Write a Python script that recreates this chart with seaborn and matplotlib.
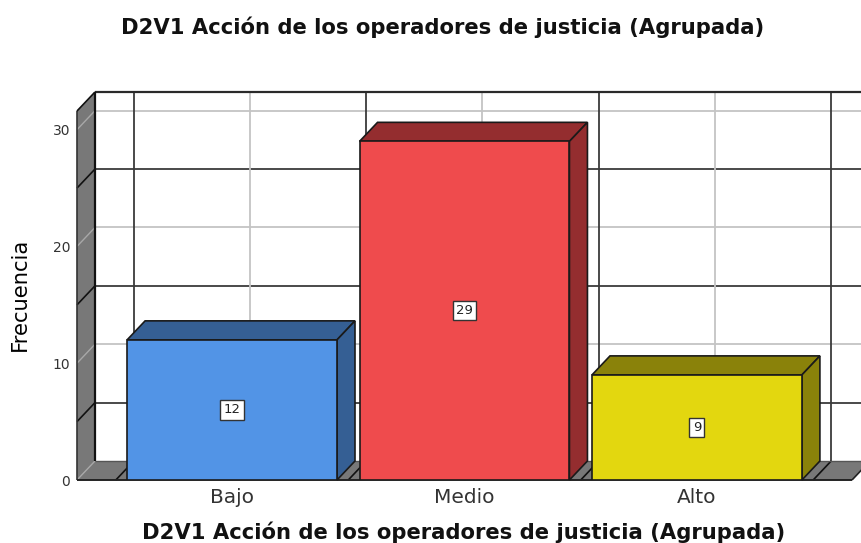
import numpy as np
import pandas as pd
import seaborn as sns
import matplotlib.pyplot as plt
from matplotlib.patches import Polygon

categories = ['Bajo', 'Medio', 'Alto']
frecuencia = [12, 29, 9]
front_colors = ['#5294E6', '#EF4B4D', '#E3D70F']
side_colors = ['#355F94', '#942D2F', '#8A820A']
light_ticks = [0, 10, 20, 30]
dark_ticks = [5, 15, 25]
title_text = 'D2V1 Acción de los operadores de justicia (Agrupada)'

sns.set_theme(style='white', rc={'font.family': 'DejaVu Sans'})

df = pd.DataFrame({'cat': categories, 'n': frecuencia})

fig = plt.figure(figsize=(8.61, 5.43), dpi=100)
# front plane of the fake 3d box, in pixels of the reference
ax = fig.add_axes([77 / 861, 1 - 480 / 543, 775 / 861, 369 / 543])

bar_w = 0.903
sns.barplot(data=df, x='cat', y='n', hue='cat', palette=front_colors, dodge=False,
            width=bar_w, saturation=1, edgecolor='#1a1a1a', linewidth=1.2,
            legend=False, ax=ax, zorder=5)

x0, x1 = -0.667, 2.667
ytop = 31.6
dx = 18 / 232.5   # depth offset in data units
dy = 19 / 11.67
ax.set_xlim(x0, x1)
ax.set_ylim(0, ytop)


def poly(pts, fc, ec='none', lw=0, z=1):
    ax.add_patch(Polygon(pts, closed=True, facecolor=fc, edgecolor=ec, linewidth=lw,
                         zorder=z, clip_on=False, joinstyle='miter'))


def line(xs, ys, c, lw=1.3, z=2):
    ax.plot(xs, ys, color=c, lw=lw, zorder=z, clip_on=False, solid_capstyle='butt')


wall_gray = '#787878'
light = '#c4c4c4'
dark = '#3a3a3a'

# side wall and floor
poly([(x0, 0), (x0 + dx, dy), (x0 + dx, ytop + dy), (x0, ytop)], wall_gray, z=1)
poly([(x0, 0), (x1, 0), (x1 + dx, dy), (x0 + dx, dy)], wall_gray, z=1)

# grid on the back wall plus its continuation on the side wall
for v in light_ticks:
    if v > 0:
        line([x0 + dx, x1 + dx], [v + dy, v + dy], light)
    line([x0, x0 + dx], [v, v + dy], '#a8a8a8', lw=1.0)
for v in dark_ticks:
    line([x0 + dx, x1 + dx], [v + dy, v + dy], dark)
    line([x0, x0 + dx], [v, v + dy], '#111111', lw=1.2)

# vertical grid on the back wall and diagonals on the floor
for i in range(len(categories)):
    line([i + dx, i + dx], [dy, ytop + dy], light)
    line([i, i + dx], [0, dy], '#a8a8a8', lw=1.0)
for b in np.arange(-0.5, 3.0, 1.0):
    line([b + dx, b + dx], [dy, ytop + dy], dark)
    line([b, b + dx], [0, dy], '#111111', lw=1.2)

# outline of the box
line([x0 + dx, x1 + dx], [ytop + dy, ytop + dy], '#2a2a2a', lw=1.6, z=3)
line([x0 + dx, x0 + dx], [dy, ytop + dy], '#111111', lw=1.6, z=3)
line([x0, x0], [0, ytop], '#333333', lw=1.2, z=3)
line([x0, x0 + dx], [ytop, ytop + dy], '#111111', lw=1.2, z=3)
line([x0 + dx, x1 + dx], [dy, dy], '#555555', lw=1.0, z=3)
line([x0, x1], [0, 0], '#222222', lw=1.4, z=4)
line([x1, x1 + dx], [0, dy], '#222222', lw=1.2, z=4)

# top and side faces of the bars, then the value labels
for i, v in enumerate(frecuencia):
    l, r = i - bar_w / 2, i + bar_w / 2
    poly([(l, v), (r, v), (r + dx, v + dy), (l + dx, v + dy)], side_colors[i],
         ec='#1a1a1a', lw=1.2, z=4)
    poly([(r, 0), (r + dx, dy), (r + dx, v + dy), (r, v)], side_colors[i],
         ec='#1a1a1a', lw=1.2, z=4)
    ax.text(i, v / 2, str(v), ha='center', va='center', fontsize=9.5, color='#222222', zorder=7,
            bbox=dict(boxstyle='square,pad=0.25', fc='white', ec='#333333', lw=1.0))

ax.set_yticks([0, 10, 20, 30])
ax.set_yticklabels(['0', '10', '20', '30'], fontsize=10, color='#333333')
ax.set_xticks(range(len(categories)))
ax.set_xticklabels(categories, fontsize=14.5, color='#333333')
ax.tick_params(axis='both', length=0)
ax.tick_params(axis='y', pad=5)
ax.tick_params(axis='x', pad=6)
ax.set_xlabel('')
ax.set_ylabel('')
sns.despine(ax=ax, left=True, bottom=True)
ax.patch.set_alpha(0)

fig.text(442.5 / 861, 1 - 27 / 543, title_text, ha='center', va='center',
         fontsize=15.2, fontweight='bold', color='#111111')
fig.text(464 / 861, 1 - 532 / 543, title_text, ha='center', va='center',
         fontsize=15.2, fontweight='bold', color='#111111')
fig.text(20 / 861, 1 - 294 / 543, 'Frecuencia', rotation=90, ha='center', va='center',
         fontsize=15.2, color='black')

fig.savefig('out.png', dpi=100)
